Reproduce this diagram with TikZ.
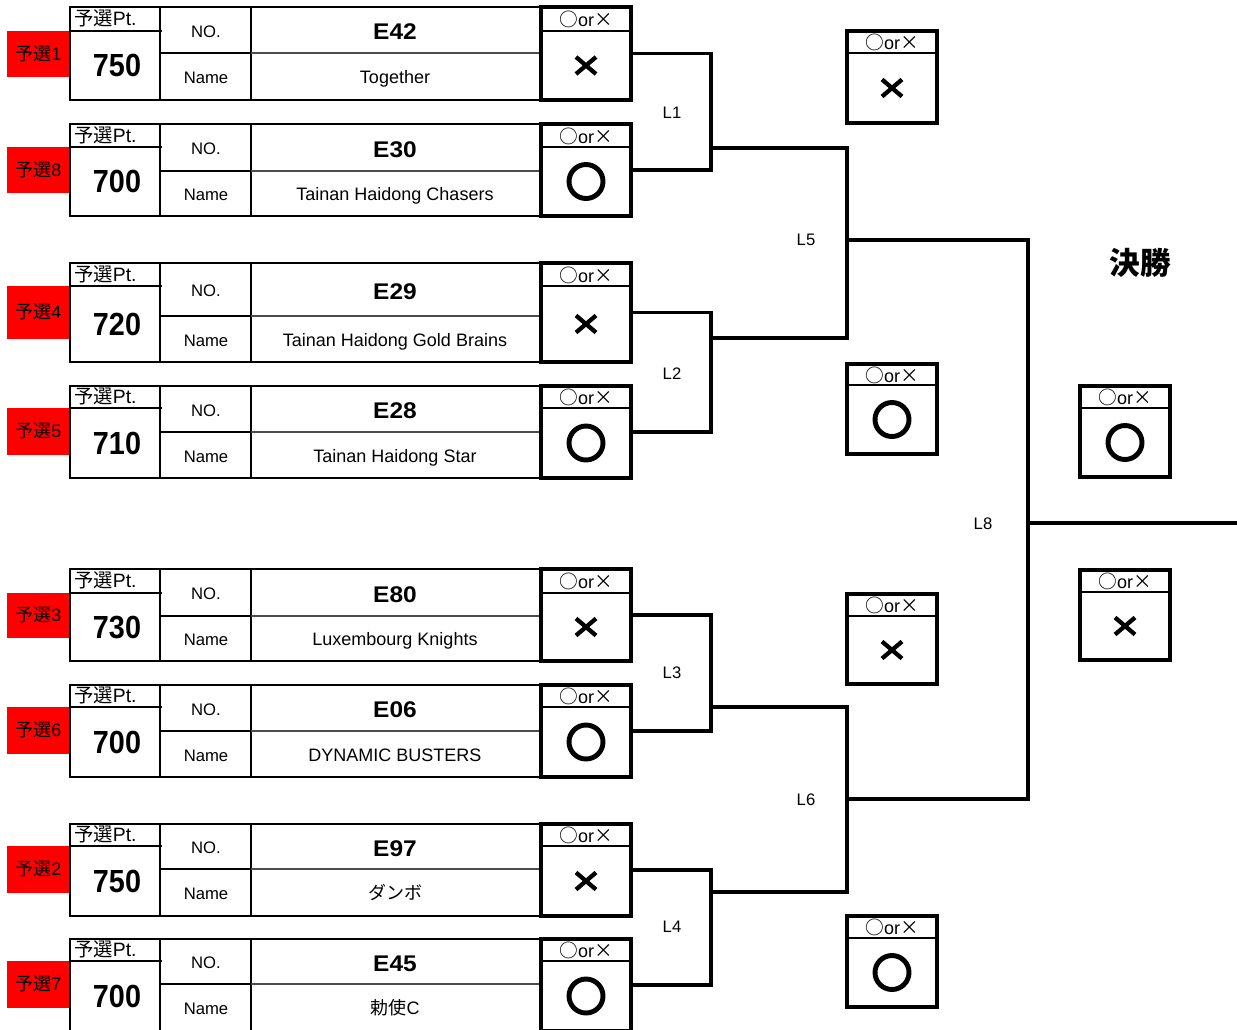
\documentclass[tikz,border=0pt]{standalone}
\usepackage{fontspec}
\setmainfont{Liberation Sans}
\newfontfamily\cjk{Noto Sans CJK JP}
\newcommand\MarkX[2]{\draw[markx] ({#1-10},{#2-8.5}) -- ({#1+10},{#2+8.5}) ({#1-10},{#2+8.5}) -- ({#1+10},{#2-8.5});}
\newcommand\MarkO[2]{\draw[marko] (#1,#2) circle[radius=17];}
\newcommand\ResBox[6]{%
  \pgfmathsetmacro\rbh{(#5-#3)*0.75}%
  \pgfmathsetmacro\rbl{(#3+#4)/2+1.2}%
  \pgfmathsetmacro\rbm{(#4+#5)/2}%
  \pgfmathsetmacro\rbc{#2+45}%
  \node[resbox, minimum height=\rbh pt] (#1) at (#2,#3) {};
  \draw[boxsep] (#2,#4) -- ({#2+90},#4);
  \node[oxlab] (#1-lab) at (\rbc,\rbl) {{\cjk\fontsize{14}{15}\selectfont ○}or{\cjk\fontsize{14}{15}\selectfont ×}};
  #6{\rbc}{\rbm}
}
\begin{document}
\begin{tikzpicture}[x=0.75pt,y=-0.75pt,
  tbl/.style={line width=1.5pt},
  sepline/.style={line width=0.8pt, black!70},
  boxsep/.style={line width=1.3pt},
  conn/.style={line width=2.3pt, line join=miter},
  resbox/.style={draw, line width=2.6pt, inner sep=0pt, outer sep=0pt, anchor=north west, minimum width=67.5pt},
  redlab/.style={fill=red, inner sep=0pt, outer sep=0pt, anchor=north west, minimum width=47.25pt, text=black, font=\fontsize{13.5}{14}\selectfont, text height=9.7pt, text depth=0pt},
  ptlab/.style={anchor=west, inner sep=0pt, font=\fontsize{14.5}{15}\selectfont, text height=10.2pt, text depth=0pt},
  score/.style={font=\fontsize{24}{26}\selectfont\bfseries, xscale=0.9, inner sep=0pt, text height=17.2pt, text depth=0pt},
  hdr/.style={font=\fontsize{12.5}{14}\selectfont, inner sep=0pt, text height=9pt, text depth=0pt},
  teamno/.style={font=\fontsize{17}{18}\selectfont\bfseries, xscale=1.08, inner sep=0pt, text height=12.2pt, text depth=0pt},
  teamname/.style={font=\fontsize{13.5}{15}\selectfont, inner sep=0pt, text height=9.7pt, text depth=0pt},
  oxlab/.style={font=\fontsize{13.5}{14}\selectfont, inner sep=0pt, text height=9.7pt, text depth=0pt},
  llab/.style={font=\fontsize{12.5}{13}\selectfont, inner sep=0pt, text height=9pt, text depth=0pt},
  titlelab/.style={font=\fontsize{23}{25}\selectfont\cjk\bfseries, inner sep=0pt},
  markx/.style={line width=3.2pt},
  marko/.style={line width=3.7pt},
]
\useasboundingbox (0,0) rectangle (1237,1029);
\clip (0,0) rectangle (1237,1029);

\foreach \i/\T/\P/\N/\B/\q/\s/\no/\nm/\mk in {
  1/7/31/53/100/1/750/E42/Together/\MarkX,
  2/124/147/171/216/8/700/E30/Tainan Haidong Chasers/\MarkO,
  3/263/286/316/362/4/720/E29/Tainan Haidong Gold Brains/\MarkX,
  4/386/408/432/478/5/710/E28/Tainan Haidong Star/\MarkO,
  5/569/593/616/661/3/730/E80/Luxembourg Knights/\MarkX,
  6/685/707/731/777/6/700/E06/DYNAMIC BUSTERS/\MarkO,
  7/824/846/869/916/2/750/E97/{\cjk ダンボ}/\MarkX,
  8/939/961/984/1031/7/700/E45/{{\cjk 勅使}C}/\MarkO}{
  \pgfmathsetmacro\rh{(\B-23-\P)*0.75}
  \node[redlab, minimum height=\rh pt] (q\i) at (7,\P) {{\cjk 予選}\q};
  \draw[tbl] (70,\T) rectangle (540,\B);
  \draw[tbl] (160,\T) -- (160,\B) (251,\T) -- (251,\B) (70,\P) -- (162,\P) (160,\N) -- (251,\N);
  \draw[sepline] (251,\N) -- (540,\N);
  \node[ptlab] (pt\i) at (74,{(\T+\P)/2}) {{\cjk 予選}Pt.};
  \node[score] (s\i) at (117,{(\P+\B)/2}) {\s};
  \node[hdr] (no\i) at (206,{(\T+\N)/2+1}) {NO.};
  \node[hdr] (nl\i) at (206,{(\N+\B)/2+1}) {Name};
  \node[teamno] (e\i) at (395,{(\T+\N)/2+1.5}) {\no};
  \node[teamname] (n\i) at (395,{(\N+\B)/2+1}) {\nm};
  \ResBox{r\i}{541}{\T}{\P}{\B}{\mk}
}

\ResBox{m1}{847}{31}{53}{123}{\MarkX}
\ResBox{m2}{847}{364}{385}{454}{\MarkO}
\ResBox{m3}{847}{594}{616}{684}{\MarkX}
\ResBox{m4}{847}{916}{938}{1007}{\MarkO}
\ResBox{f1}{1080}{386}{408}{477}{\MarkO}
\ResBox{f2}{1080}{570}{592}{660}{\MarkX}

\coordinate (b1) at (711,148);
\coordinate (b2) at (711,338);
\coordinate (b3) at (711,707);
\coordinate (b4) at (711,892);
\coordinate (s1) at (847,148);
\coordinate (s2) at (847,338);
\coordinate (s3) at (847,707);
\coordinate (s4) at (847,892);
\coordinate (u1) at (847,240);
\coordinate (u2) at (847,799);
\coordinate (v1) at (1028,240);
\coordinate (v2) at (1028,799);
\coordinate (w) at (1028,523);
\coordinate (z) at (1237,523);

\draw[conn] (r1.east) -| (b1) |- (r2.east);
\draw[conn] (r3.east) -| (b2) |- (r4.east);
\draw[conn] (r5.east) -| (b3) |- (r6.east);
\draw[conn] (r7.east) -| (b4) |- (r8.east);
\draw[conn] (b1) -- (s1) -- (s2) -- (b2);
\draw[conn] (b3) -- (s3) -- (s4) -- (b4);
\draw[conn] (u1) -- (v1) -- (v2) -- (u2);
\draw[conn] (w) -- (z);

\node[llab] (l1) at (672,112) {L1};
\node[llab] (l2) at (672,373) {L2};
\node[llab] (l3) at (672,672) {L3};
\node[llab] (l4) at (672,926) {L4};
\node[llab] (l5) at (806,239) {L5};
\node[llab] (l6) at (806,799) {L6};
\node[llab] (l8) at (983,523) {L8};
\node[titlelab] (final) at (1140,263) {決勝};
\end{tikzpicture}
\end{document}
